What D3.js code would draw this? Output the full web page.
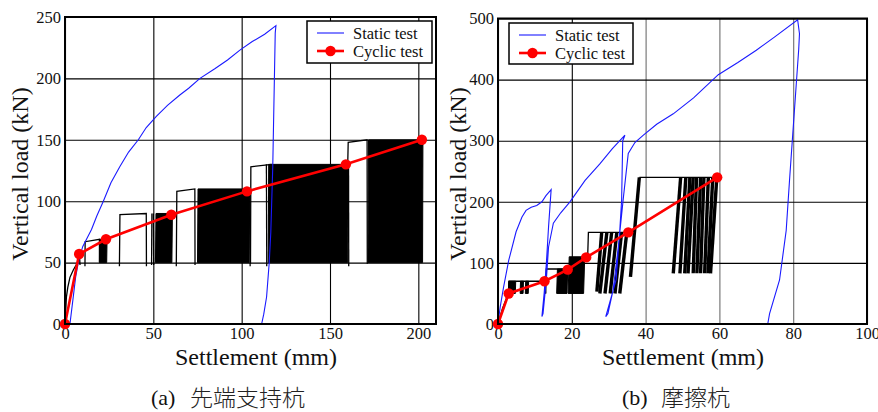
<!DOCTYPE html>
<html>
<head>
<meta charset="utf-8">
<script src="https://cdn.jsdelivr.net/npm/d3@7"></script>
<style>
body{margin:0;background:#fff}
svg{display:block}
text{font-family:"Liberation Serif","Times New Roman",serif;fill:#111}
.tick text{font-size:16.5px}
.ttl{font-size:24px}
.cap{font-size:22px}
.cjk{font-family:"Noto Sans CJK JP",sans-serif;font-size:23px;font-weight:300;fill:#222}
.leg text{font-size:16.5px}
</style>
</head>
<body>
<script>

// ---- data: (a) end-bearing pile ----
var xTicksA = [0, 50, 100, 150, 200],
    yTicksA = [0, 50, 100, 150, 200, 250];

// static test, [settlement mm, load kN]
var staticA = [[2.8,0],[4.5,20],[6,38],[7.5,50],[10,63],[15,77],[18,88],[21.7,100],[26,115],[31,128],
  [36,140],[41.5,150],[46,160],[51.7,169],[58,178],[65,186.5],[70,192],[76.4,200],[85,208],[92,215],
  [99,223],[106,230],[113,236],[119.4,243],[119,237],[117.6,128],[116.5,75],[115.6,50],[114.1,22],
  [112.5,8],[111.3,0]];

// cyclic test envelope points (red)
var cyclicA = [[0,0],[8,57],[23.2,69],[60.2,89],[103,108],[159,130],[202,150]];

// cyclic record: single strokes
var cycleLinesA = [
  [[0,0],[0.8,22],[1.6,30],[2.8,38],[4.7,44],[7.5,51],[8.2,56],[8.5,48]],
  [[11.3,47],[11.4,67],[19.5,69],[19.5,50]],
  [[30.8,47],[31.1,89],[46,90],[46.1,47]],
  [[49,48],[49.2,90]],[[50,90],[50.2,48]],
  [[63,47],[63.3,108],[73.5,110],[73.6,48]],
  [[104.6,110],[104.8,47]],
  [[105,49],[105.2,128],[117,130]],
  [[114,130],[114.2,47]],
  [[160.5,130],[160.6,47]],
  [[160,128],[160.3,148],[171,150],[171.1,49]]
];
// cyclic record: dense blocks [x bottom-left, x bottom-right, x top-left, x top-right, low kN, high kN]
var cycleBlocksA = [
  [19.5,23.6,19.6,23.8,50,69],
  [51.2,60.5,51.5,60.8,50,90],
  [75,104.2,75.3,104.6,50,110],
  [115,160,115.3,160.4,50,130],
  [171.5,202.4,171.8,202.6,50,150]
];

// ---- data: (b) friction pile ----
var xTicksB = [0, 20, 40, 60, 80, 100],
    yTicksB = [0, 100, 200, 300, 400, 500];

var staticB = [[0,0],[0.6,28],[1.5,60],[2.9,104],[4.9,151],[6.5,175],[7.6,186],[9,191],[10.5,194],
  [11.9,200],[13,210],[14.4,220],[13.7,159],[13.1,99],[12.5,50],[11.9,12],[12.2,17],[13.1,72],
  [13.7,126],[15,165],[17,182],[19.5,200],[23.6,235],[27.6,262],[31,287],[34.4,309],[33.8,300],
  [33.5,202],[33,153],[32,72],[29.2,12],[29.8,17],[31.2,56],[32.6,126],[34,208],[35.3,279],
  [37.1,297],[39.4,309],[43,327],[47.5,344],[53,370],[59.7,408],[65,428],[70,448],[75,470],
  [81.2,498],[81.7,475],[81.5,450],[79,235],[78.1,153],[76.3,72],[73.6,17],[73.1,0]];

var cyclicB = [[0,0],[2.9,50],[12.6,70],[18.9,89],[23.9,109],[35.3,150],[59.4,240]];

var cycleLinesB = [
  [[0,0],[1.2,25],[2.3,42],[2.8,50],[3,70],[12.8,70],[12.9,50]],
  [[12.9,50],[13.1,90],[18.9,90]],
  [[23.5,110],[24.3,110],[24.5,150],[34.9,150]],
  [[38.3,240],[59.4,240]]
];
var cycleBlocksB = [
  [2.8,4.7,2.9,4.8,50,70],
  [6,6.8,6.1,6.9,50,70],
  [7.4,8.2,7.5,8.3,50,70],
  [15.9,18.7,16.1,18.9,50,90],
  [19,23.2,19.3,23.5,50,110]
];
// slanted bands of repeated cycles [x at low, x at high, low kN, high kN]
var cycleStrokesB = [
  [26.8,28.1,53,150],[27.6,29.5,50,150],[29,30.8,50,150],[30.4,32.2,50,150],[31.7,33.5,50,150],
  [33,34.9,50,150],[35.9,38.3,77,240],
  [47.5,49.5,83,240],[49.3,50.9,83,240],[50.6,52,83,240],[51.5,52.9,83,240],[52.9,53.8,83,240],
  [53.9,54.9,83,240],[54.9,55.8,83,240],[56,57,83,240],[56.9,58.2,83,240],[57.6,59.3,83,240]
];

var legendLabels = ["Static test", "Cyclic test"];
var captions = [["(a)", "先端支持杭"], ["(b)", "摩擦杭"]];


var svg = d3.select("body").append("svg").attr("width", 878).attr("height", 412);

function panel(o) {
    var x = d3.scaleLinear().domain(o.xDomain).range([o.left, o.right]),
        y = d3.scaleLinear().domain(o.yDomain).range([o.bottom, o.top]),
        g = svg.append("g"),
        line = d3.line().x(function(d){return x(d[0]);}).y(function(d){return y(d[1]);});

    // grid + tick labels
    var gx = g.append("g").attr("transform", "translate(0," + o.bottom + ")")
        .call(d3.axisBottom(x).tickValues(o.xTicks).tickSizeInner(-(o.bottom - o.top)).tickSizeOuter(0).tickPadding(3));
    var gy = g.append("g").attr("transform", "translate(" + o.left + ",0)")
        .call(d3.axisLeft(y).tickValues(o.yTicks).tickSizeInner(-(o.right - o.left)).tickSizeOuter(0).tickPadding(4));
    [gx, gy].forEach(function(a){
        a.attr("font-family", null).attr("font-size", null);
        a.select(".domain").remove();
        a.selectAll(".tick line").attr("stroke", "#000").attr("stroke-width", 1.1);
        a.selectAll(".tick text").attr("fill", "#111");
    });
    if (o.grayX) gx.selectAll(".tick line").attr("stroke", function(d){ return o.grayX.indexOf(d) >= 0 ? "#6e6e6e" : "#000"; });

    // cyclic record (black)
    var cg = g.append("g");
    cg.selectAll("path.blk").data(o.blocks).enter().append("path")
        .attr("d", function(b){ return line([[b[0],b[4]],[b[2],b[5]],[b[3],b[5]],[b[1],b[4]]]) + "Z"; })
        .attr("fill", "#000").attr("stroke", "#000").attr("stroke-width", 1);
    cg.selectAll("path.ln").data(o.lines).enter().append("path")
        .attr("d", line).attr("fill", "none").attr("stroke", "#000").attr("stroke-width", 1.3);
    cg.selectAll("path.st").data(o.strokes || []).enter().append("path")
        .attr("d", function(s){ return line([[s[0],s[2]],[s[1],s[3]]]); })
        .attr("fill", "none").attr("stroke", "#000").attr("stroke-width", 3.4);

    // static test
    g.append("path").datum(o.stat).attr("d", line)
        .attr("fill", "none").attr("stroke", "#1a1aff").attr("stroke-width", 1.1);

    // cyclic envelope
    g.append("path").datum(o.cyc).attr("d", line)
        .attr("fill", "none").attr("stroke", "#ff0000").attr("stroke-width", 2.6);
    g.selectAll("circle.pt").data(o.cyc).enter().append("circle")
        .attr("cx", function(d){return x(d[0]);}).attr("cy", function(d){return y(d[1]);})
        .attr("r", 5.2).attr("fill", "#ff0000");

    // frame
    g.append("rect").attr("x", o.left).attr("y", o.top)
        .attr("width", o.right - o.left).attr("height", o.bottom - o.top)
        .attr("fill", "none").attr("stroke", "#000").attr("stroke-width", 2);

    // legend
    var lg = g.append("g").attr("class", "leg");
    lg.append("rect").attr("x", o.leg[0]).attr("y", o.leg[1]).attr("width", o.leg[2]).attr("height", o.leg[3])
        .attr("fill", "#fff").attr("stroke", "#000").attr("stroke-width", 1.5);
    var lx = o.leg[0] + 10, r1 = o.leg[1] + 12, r2 = o.leg[1] + 30;
    lg.append("line").attr("x1", lx).attr("x2", lx + 27).attr("y1", r1).attr("y2", r1)
        .attr("stroke", "#1a1aff").attr("stroke-width", 1.1);
    lg.append("line").attr("x1", lx).attr("x2", lx + 27).attr("y1", r2).attr("y2", r2)
        .attr("stroke", "#ff0000").attr("stroke-width", 2.6);
    lg.append("circle").attr("cx", lx + 13.5).attr("cy", r2).attr("r", 5.2).attr("fill", "#ff0000");
    lg.selectAll("text").data(legendLabels).enter().append("text")
        .attr("x", lx + 36).attr("y", function(d, i){ return (i ? r2 : r1) + 5.5; }).text(function(d){return d;});

    // titles
    g.append("text").attr("class", "ttl").attr("text-anchor", "middle")
        .attr("x", o.xTitleX).attr("y", 365).text("Settlement (mm)");
    g.append("text").attr("class", "ttl").attr("text-anchor", "middle")
        .attr("transform", "translate(" + o.yTitleX + ",174) rotate(-90)")
        .text("Vertical load (kN)");
    var cap = g.append("text").attr("class", "cap").attr("y", 405);
    cap.append("tspan").attr("x", o.capX).text(o.cap[0]);
    cap.append("tspan").attr("class", "cjk").attr("x", o.capX + 39).attr("y", 406).text(o.cap[1]);
}

panel({left: 65, right: 436, top: 17, bottom: 324, xDomain: [0, 210], yDomain: [0, 250],
       xTicks: xTicksA, yTicks: yTicksA, stat: staticA, cyc: cyclicA,
       lines: cycleLinesA, blocks: cycleBlocksA, leg: [307, 21, 125, 42],
       xTitleX: 256, yTitleX: 28, capX: 151, cap: captions[0]});

panel({left: 498, right: 867, top: 18.5, bottom: 324, xDomain: [0, 100], yDomain: [0, 500],
       xTicks: xTicksB, yTicks: yTicksB, stat: staticB, cyc: cyclicB, grayX: [40, 60, 80],
       lines: cycleLinesB, blocks: cycleBlocksB, strokes: cycleStrokesB, leg: [509, 23, 124, 41],
       xTitleX: 683, yTitleX: 466, capX: 622, cap: captions[1]});

</script>
</body>
</html>
